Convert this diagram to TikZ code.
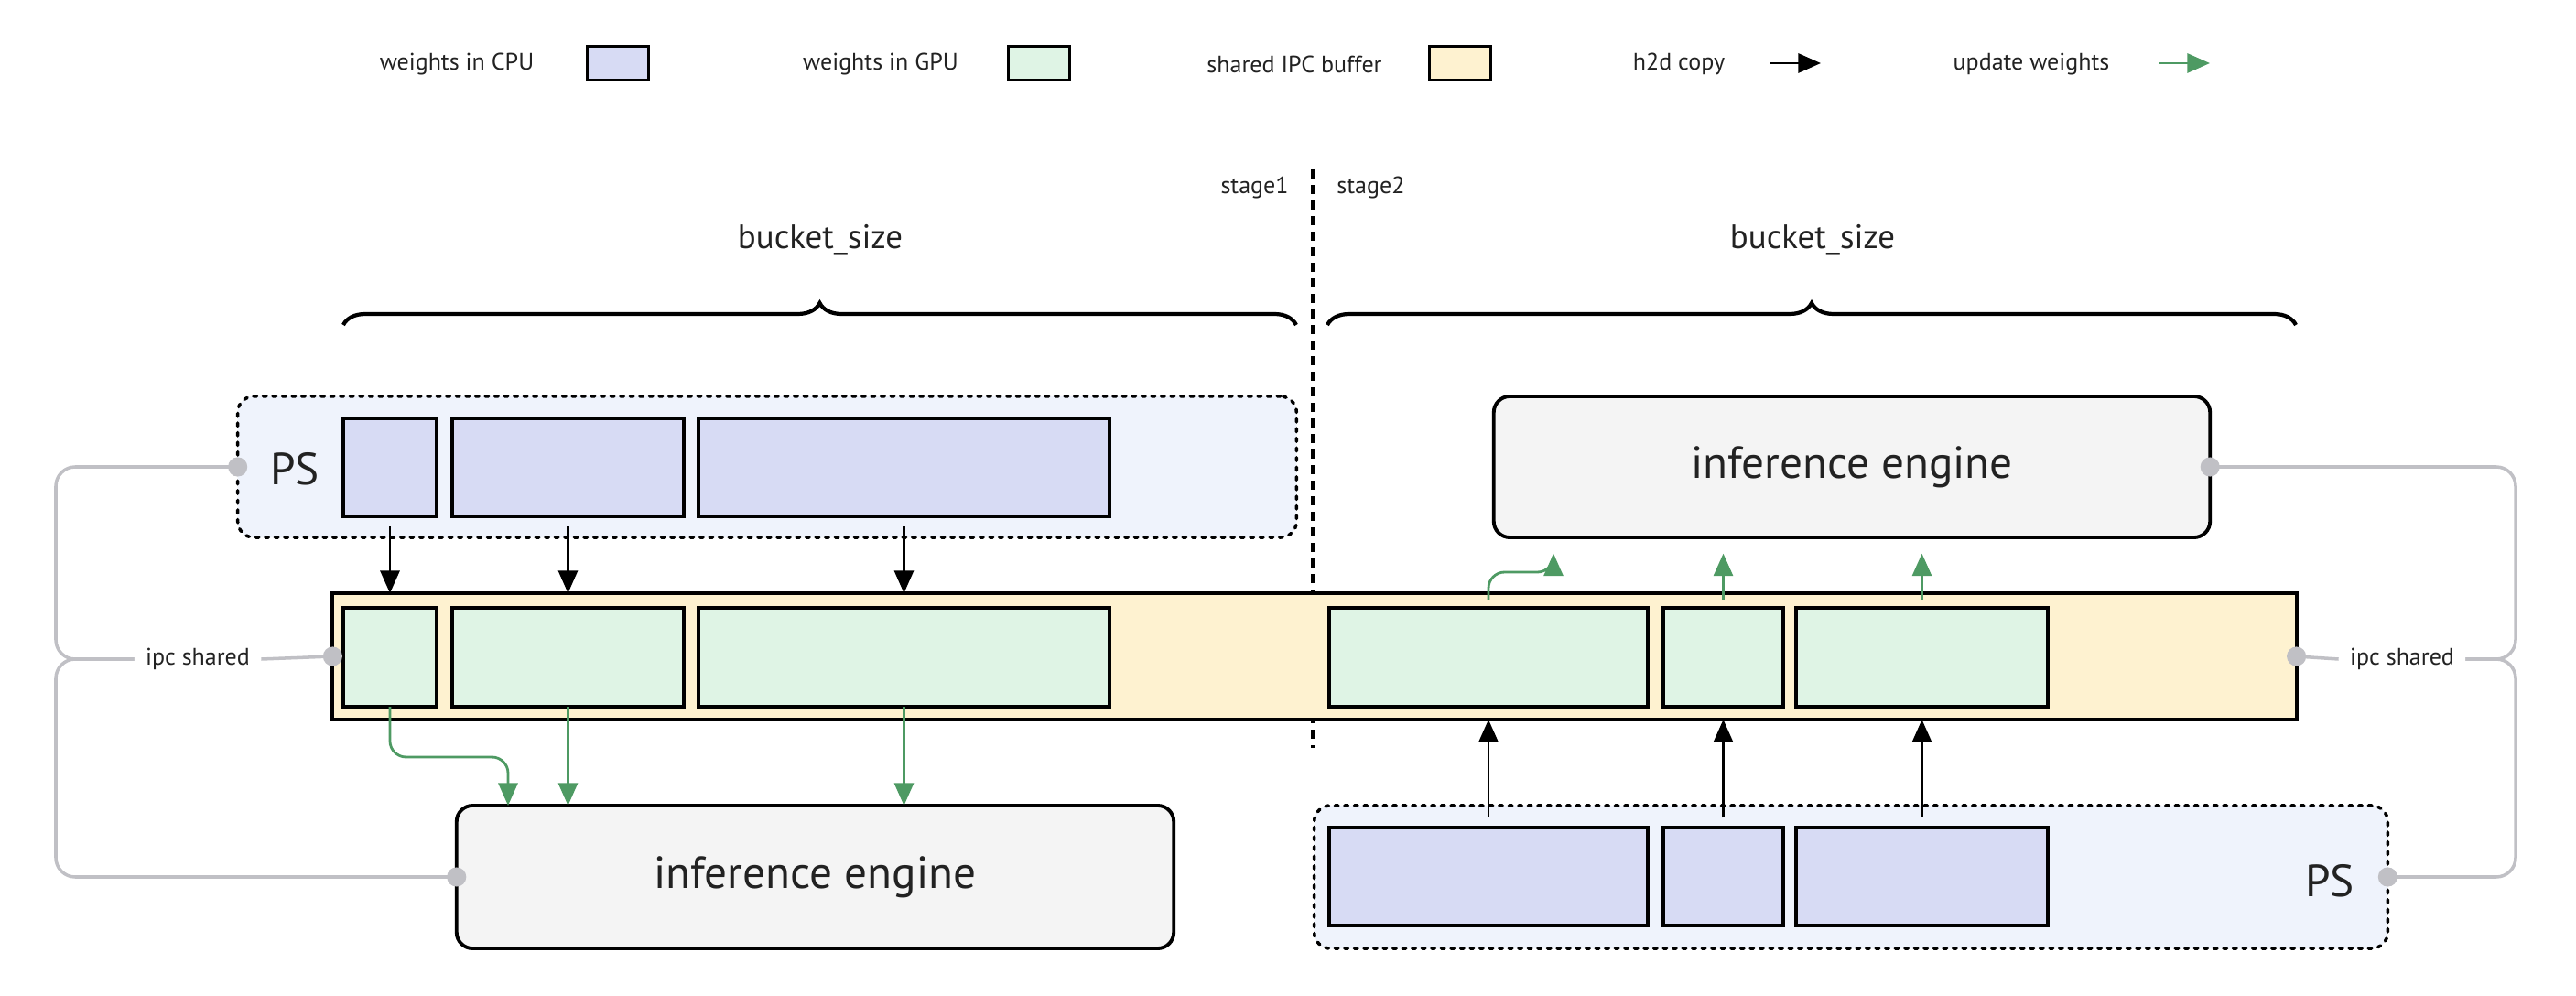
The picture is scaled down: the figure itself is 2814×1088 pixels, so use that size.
\documentclass[tikz,border=0pt]{standalone}
\usepackage{fontspec}
\setmainfont{PT Sans}
\usetikzlibrary{arrows.meta,positioning,decorations.pathreplacing}
\definecolor{cpuc}{HTML}{D7DBF4}
\definecolor{gpuc}{HTML}{DFF4E5}
\definecolor{ipcc}{HTML}{FEF2D0}
\definecolor{psc}{HTML}{EFF3FC}
\definecolor{iec}{HTML}{F4F4F4}
\definecolor{updc}{HTML}{4E9A63}
\definecolor{wirec}{HTML}{C0C0C5}
\definecolor{txtc}{HTML}{222222}
\tikzset{
  blk/.style={draw=black, line width=1.1pt, inner sep=0pt, outer sep=0pt},
  cpu/.style={blk, fill=cpuc, minimum height=1.07cm},
  gpu/.style={blk, fill=gpuc, minimum height=1.08cm},
  psbox/.style={draw=black, dotted, line width=1pt, line cap=round, fill=psc, rounded corners=5pt, inner sep=0pt, outer sep=0pt},
  engine/.style={blk, fill=iec, rounded corners=5pt, font=\fontsize{14}{16}\selectfont, text=txtc},
  h2d/.style={-{Triangle[length=7pt,width=6pt]}, line width=0.8pt},
  upd/.style={-{Triangle[length=7pt,width=6pt]}, line width=0.8pt, draw=updc},
  wire/.style={draw=wirec, line width=1pt, rounded corners=6pt},
  dot/.style={circle, fill=wirec, inner sep=0pt, minimum size=6pt},
  lbl/.style={text=txtc, font=\fontsize{7.4}{9}\selectfont},
  swatch/.style={blk, minimum width=0.67cm, minimum height=0.37cm},
}
\begin{document}
\begin{tikzpicture}[x=0.01cm, y=-0.01cm]
	\useasboundingbox (0,0) rectangle (2814,1088);
	
	%legend
	\node[lbl] (lcpu) at (499,70) {weights in CPU};
	\node[swatch, fill=cpuc] (scpu) at (675,69) {};
	\node[lbl] (lgpu) at (962,70) {weights in GPU};
	\node[swatch, fill=gpuc] (sgpu) at (1135,69) {};
	\node[lbl] (lipc) at (1414,70) {shared IPC buffer};
	\node[swatch, fill=ipcc] (sipc) at (1595,69) {};
	\node[lbl] (lh2d) at (1834,70) {h2d copy};
	\coordinate (ah0) at (1933,69); \coordinate (ah1) at (1989,69);
	\draw[h2d] (ah0) -- (ah1);
	\node[lbl] (lupd) at (2219,70) {update weights};
	\coordinate (au0) at (2359,69); \coordinate (au1) at (2414,69);
	\draw[upd] (au0) -- (au1);
	
	%stages
	\coordinate (st0) at (1434,185); \coordinate (st1) at (1434,817);
	\draw[line width=1.2pt, dash pattern=on 0.1cm off 0.07cm] (st0) -- (st1);
	\node[lbl, anchor=east] (s1) at (1420,205) {stage1};
	\node[lbl, anchor=west] (s2) at (1448,205) {stage2};
	
	%braces
	\draw[line width=1.2pt, decorate, decoration={brace, amplitude=0.24cm}] (375,355) -- (1416,355);
	\draw[line width=1.2pt, decorate, decoration={brace, amplitude=0.24cm}] (1450,355) -- (2508,355);
	\node[lbl, font=\fontsize{10.5}{12}\selectfont] (bs1) at (896,262) {bucket\_size};
	\node[lbl, font=\fontsize{10.5}{12}\selectfont] (bs2) at (1980,262) {bucket\_size};
	
	%stage1 side
	\node[psbox, minimum width=11.56cm, minimum height=1.54cm] (ps1) at (838,510) {};
	\node[lbl, font=\fontsize{14}{16}\selectfont] (psl1) at (322,512) {PS};
	\node[blk, fill=ipcc, minimum width=21.44cm, minimum height=1.38cm] (buf) at (1436,717) {};
	\node[cpu, minimum width=1.02cm] (c1) at (426,511) {};
	\node[cpu, minimum width=2.53cm] (c2) at (620.5,511) {};
	\node[cpu, minimum width=4.49cm] (c3) at (987.5,511) {};
	\node[gpu, minimum width=1.02cm] (g1) at (426,718) {};
	\node[gpu, minimum width=2.53cm] (g2) at (620.5,718) {};
	\node[gpu, minimum width=4.49cm] (g3) at (987.5,718) {};
	\node[engine, minimum width=7.83cm, minimum height=1.56cm] (ie1) at (890.5,958) {inference engine};
	
	%stage2 side
	\node[engine, minimum width=7.82cm, minimum height=1.54cm] (ie2) at (2023,510) {inference engine};
	\node[psbox, minimum width=11.72cm, minimum height=1.56cm] (ps2) at (2022,958) {};
	\node[lbl, font=\fontsize{14}{16}\selectfont] (psl2) at (2545,962) {PS};
	\node[gpu, minimum width=3.48cm] (r1) at (1626,718) {};
	\node[gpu, minimum width=1.31cm] (r2) at (1882.5,718) {};
	\node[gpu, minimum width=2.75cm] (r3) at (2099.5,718) {};
	\node[cpu, minimum width=3.48cm] (p1) at (1626,957.5) {};
	\node[cpu, minimum width=1.31cm] (p2) at (1882.5,957.5) {};
	\node[cpu, minimum width=2.75cm] (p3) at (2099.5,957.5) {};
	
	%h2d copies
	\foreach \a in {c1,c2,c3}
		\draw[h2d] ([yshift=-3pt]\a.south) -- (\a.south |- buf.north);
	\foreach \a in {p1,p2,p3}
		\draw[h2d] ([yshift=3pt]\a.north) -- (\a.north |- buf.south);
	
	%weight updates
	\coordinate (k1) at (555,827);
	\draw[upd, rounded corners=5pt] (g1.south) |- (k1) -- (k1 |- ie1.north);
	\draw[upd] (g2.south) -- (g2.south |- ie1.north);
	\draw[upd] (g3.south) -- (g3.south |- ie1.north);
	\coordinate (k2) at (1697,625);
	\draw[upd, rounded corners=5pt] ([yshift=-2pt]r1.north |- buf.north) |- (k2) -- ([yshift=-5pt]k2 |- ie2.south);
	\draw[upd] ([yshift=-2pt]r2.north |- buf.north) -- ([yshift=-5pt]r2.north |- ie2.south);
	\draw[upd] ([yshift=-2pt]r3.north |- buf.north) -- ([yshift=-5pt]r3.north |- ie2.south);
	
	%ipc shared, left
	\node[lbl] (ipcL) at (216,720) {ipc shared};
	\draw[wire] (ps1.west) -- (61,510) -- (61,720) -- (ipcL.west);
	\draw[wire] (ie1.west) -- (61,958) -- (61,720) -- (ipcL.west);
	\draw[wire] (ipcL.east) -- (buf.west);
	\foreach \a in {ps1.west,ie1.west,buf.west}
		\node[dot] at (\a) {};
	
	%ipc shared, right
	\node[lbl] (ipcR) at (2624,720) {ipc shared};
	\draw[wire] (ie2.east) -- (2748,510) -- (2748,720) -- (ipcR.east);
	\draw[wire] (ps2.east) -- (2748,958) -- (2748,720) -- (ipcR.east);
	\draw[wire] (ipcR.west) -- (buf.east);
	\foreach \a in {ie2.east,ps2.east,buf.east}
		\node[dot] at (\a) {};
\end{tikzpicture}
\end{document}
